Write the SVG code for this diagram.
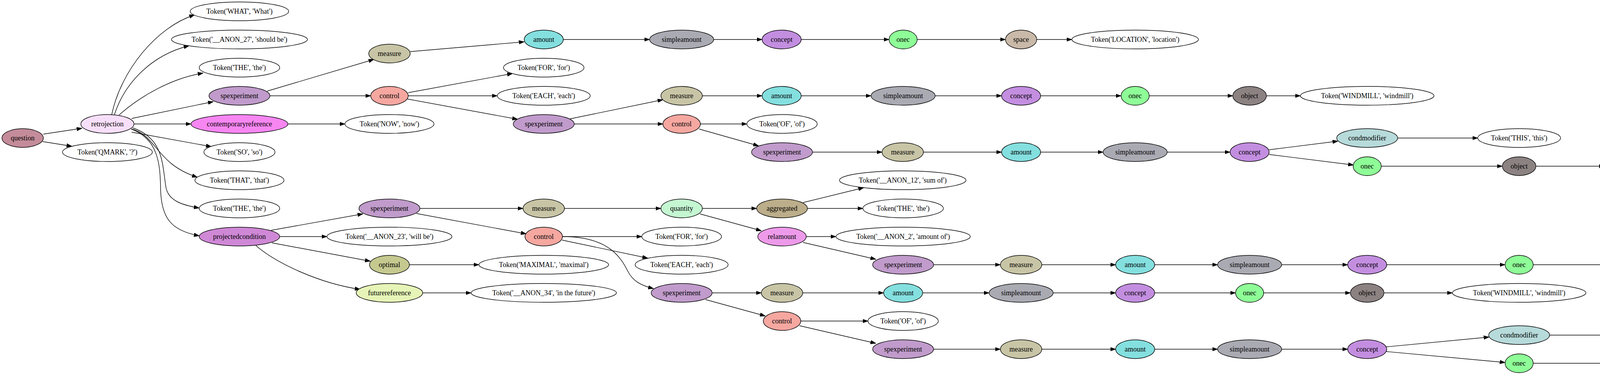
<svg xmlns="http://www.w3.org/2000/svg" width="4872" height="959" viewBox="0 0 4872 959">
<style>
ellipse{stroke:#000;stroke-width:1.4;fill:#fff}
text{font-family:"Liberation Serif","Times New Roman",serif;font-size:18px;text-anchor:middle;fill:#000}
#edges path{fill:none;stroke:#000;stroke-width:1.4;marker-end:url(#ah)}
.question{fill:#c48c9a}.retrojection{fill:#f7dff9}.spexperiment{fill:#c09bcb}.contemporaryreference{fill:#f786f2}
.projectedcondition{fill:#cf88d6}.measure{fill:#c8c5a6}.amount{fill:#84dfdf}.control{fill:#f5a7a0}
.simpleamount{fill:#aaaab3}.concept{fill:#c38ee0}.onec{fill:#8efc97}.space{fill:#c9b9a8}.object{fill:#8c8282}
.condmodifier{fill:#b7dada}.quantity{fill:#c5f6d2}.aggregated{fill:#bcae8a}.relamount{fill:#ee9aea}
.optimal{fill:#c5c98f}.futurereference{fill:#e6f5b7}.stuff{fill:#f3c6c8}
</style>
<defs>
<marker id="ah" viewBox="0 0 14 10" refX="13.5" refY="5" markerWidth="14" markerHeight="10" markerUnits="userSpaceOnUse" orient="auto">
<path d="M0,0.3 L13.5,5 L0,9.7 Z" fill="#000" stroke="#000" stroke-width="1"/>
</marker>
</defs>
<rect width="4872" height="959" fill="#fff"/>
<g id="edges">
<path d="M111,343 L210,328"/>
<path d="M109,362 L184,374"/>
<path d="M286,293 C310,180 400,70 498,38"/>
<path d="M293,293 C320,210 390,140 484,117"/>
<path d="M305,294 C360,245 440,200 520,187"/>
<path d="M337,303 L546,260"/>
<path d="M343,317 L489,317"/>
<path d="M337,338 L541,375"/>
<path d="M337,330 C400,345 400,420 505,453"/>
<path d="M340,327 C420,355 415,420 425,480 C432,515 470,525 510,532"/>
<path d="M336,330 C405,355 410,420 411,480 C412,560 440,590 510,603"/>
<path d="M684,233 L957,152"/>
<path d="M691,245 L949,245"/>
<path d="M737,317 L883,317"/>
<path d="M1050,132 L1342,107"/>
<path d="M1045,237 L1312,188"/>
<path d="M1045,245 L1273,245"/>
<path d="M1042,253 L1325,305"/>
<path d="M1459,304 L1697,255"/>
<path d="M1470,317 L1697,317"/>
<path d="M1793,317 L1912,317"/>
<path d="M1790,330 L1942,373"/>
<path d="M694,589 L929,547"/>
<path d="M716,605 L837,605"/>
<path d="M696,621 L948,668"/>
<path d="M655,628 C710,675 820,725 922,740"/>
<path d="M1075,533 L1339,533"/>
<path d="M1066,546 L1347,598"/>
<path d="M1048,677 L1226,677"/>
<path d="M1082,749 L1206,749"/>
<path d="M1445,533 L1692,533"/>
<path d="M1440,605 L1643,605"/>
<path d="M1439,614 L1658,660"/>
<path d="M1440,605 C1560,605 1590,660 1608,695 C1620,718 1640,730 1673,738"/>
<path d="M1798,533 L1937,533"/>
<path d="M1792,547 L1949,590"/>
<path d="M2056,518 L2211,480"/>
<path d="M2067,533 L2209,533"/>
<path d="M2064,605 L2140,605"/>
<path d="M2056,620 L2242,663"/>
<path d="M1823,749 L1949,749"/>
<path d="M1806,766 L1959,808"/>
<path d="M2050,821 L2222,821"/>
<path d="M2047,833 L2242,878"/>
<path d="M1442,101 L1663,101"/>
<path d="M1827,101 L1951,101"/>
<path d="M2051,101 L2276,101"/>
<path d="M2348,101 L2574,101"/>
<path d="M2654,101 L2744,101"/>
<path d="M1798,245 L1951,245"/>
<path d="M2051,245 L2230,245"/>
<path d="M2394,245 L2564,245"/>
<path d="M2664,245 L2870,245"/>
<path d="M2942,245 L3156,245"/>
<path d="M3242,245 L3329,245"/>
<path d="M2080,389 L2258,389"/>
<path d="M2364,389 L2564,389"/>
<path d="M2664,389 L2824,389"/>
<path d="M2988,389 L3149,389"/>
<path d="M3249,383 L3425,361"/>
<path d="M3249,395 L3465,422"/>
<path d="M3578,353 L3783,353"/>
<path d="M3536,425 L3846,425"/>
<path d="M3932,425 L4107,425"/>
<path d="M2390,677 L2561,677"/>
<path d="M2667,677 L2856,677"/>
<path d="M2956,677 L3117,677"/>
<path d="M3281,677 L3450,677"/>
<path d="M3550,677 L3853,677"/>
<path d="M3925,677 L4250,677"/>
<path d="M4322,677 L4544,677"/>
<path d="M2055,749 L2262,749"/>
<path d="M2362,749 L2532,749"/>
<path d="M2696,749 L2856,749"/>
<path d="M2956,749 L3163,749"/>
<path d="M3235,749 L3457,749"/>
<path d="M3543,749 L3718,749"/>
<path d="M2390,893 L2561,893"/>
<path d="M2667,893 L2856,893"/>
<path d="M2956,893 L3117,893"/>
<path d="M3281,893 L3450,893"/>
<path d="M3549,887 L3812,862"/>
<path d="M3549,899 L3853,927"/>
<path d="M3967,857 L4176,857"/>
<path d="M3925,929 L4242,929"/>
<path d="M4328,929 L4511,929"/>
</g>
<g id="n1"><ellipse class="question" cx="58" cy="353" rx="53" ry="24"/><text x="58" y="359">question</text></g>
<g id="n2"><ellipse class="retrojection" cx="275" cy="317" rx="68" ry="24"/><text x="275" y="323">retrojection</text></g>
<g id="n3"><ellipse cx="275" cy="389" rx="115" ry="24"/><text x="275" y="395">Token('QMARK', '?')</text></g>
<g id="n4"><ellipse cx="613" cy="29" rx="126" ry="24"/><text x="613" y="35">Token('WHAT', 'What')</text></g>
<g id="n5"><ellipse cx="613" cy="101" rx="174" ry="24"/><text x="613" y="107">Token('__ANON_27', 'should be')</text></g>
<g id="n6"><ellipse cx="613" cy="173" rx="103" ry="24"/><text x="613" y="179">Token('THE', 'the')</text></g>
<g id="n7"><ellipse class="spexperiment" cx="613" cy="245" rx="78" ry="24"/><text x="613" y="251">spexperiment</text></g>
<g id="n8"><ellipse class="contemporaryreference" cx="613" cy="317" rx="124" ry="24"/><text x="613" y="323">contemporaryreference</text></g>
<g id="n9"><ellipse cx="613" cy="389" rx="91" ry="24"/><text x="613" y="395">Token('SO', 'so')</text></g>
<g id="n10"><ellipse cx="613" cy="461" rx="114" ry="24"/><text x="613" y="467">Token('THAT', 'that')</text></g>
<g id="n11"><ellipse cx="613" cy="533" rx="103" ry="24"/><text x="613" y="539">Token('THE', 'the')</text></g>
<g id="n12"><ellipse class="projectedcondition" cx="613" cy="605" rx="103" ry="24"/><text x="613" y="611">projectedcondition</text></g>
<g id="n13"><ellipse class="measure" cx="997" cy="137" rx="53" ry="24"/><text x="997" y="143">measure</text></g>
<g id="n14"><ellipse class="control" cx="997" cy="245" rx="48" ry="24"/><text x="997" y="251">control</text></g>
<g id="n15"><ellipse cx="997" cy="317" rx="114" ry="24"/><text x="997" y="323">Token('NOW', 'now')</text></g>
<g id="n16"><ellipse class="spexperiment" cx="997" cy="533" rx="78" ry="24"/><text x="997" y="539">spexperiment</text></g>
<g id="n17"><ellipse cx="997" cy="605" rx="160" ry="24"/><text x="997" y="611">Token('__ANON_23', 'will be')</text></g>
<g id="n18"><ellipse class="optimal" cx="997" cy="677" rx="51" ry="24"/><text x="997" y="683">optimal</text></g>
<g id="n19"><ellipse class="futurereference" cx="997" cy="749" rx="85" ry="24"/><text x="997" y="755">futurereference</text></g>
<g id="n20"><ellipse class="amount" cx="1392" cy="101" rx="50" ry="24"/><text x="1392" y="107">amount</text></g>
<g id="n21"><ellipse cx="1392" cy="173" rx="103" ry="24"/><text x="1392" y="179">Token('FOR', 'for')</text></g>
<g id="n22"><ellipse cx="1392" cy="245" rx="119" ry="24"/><text x="1392" y="251">Token('EACH', 'each')</text></g>
<g id="n23"><ellipse class="spexperiment" cx="1392" cy="317" rx="78" ry="24"/><text x="1392" y="323">spexperiment</text></g>
<g id="n24"><ellipse class="measure" cx="1392" cy="533" rx="53" ry="24"/><text x="1392" y="539">measure</text></g>
<g id="n25"><ellipse class="control" cx="1392" cy="605" rx="48" ry="24"/><text x="1392" y="611">control</text></g>
<g id="n26"><ellipse cx="1392" cy="677" rx="166" ry="24"/><text x="1392" y="683">Token('MAXIMAL', 'maximal')</text></g>
<g id="n27"><ellipse cx="1392" cy="749" rx="186" ry="24"/><text x="1392" y="755">Token('__ANON_34', 'in the future')</text></g>
<g id="n28"><ellipse class="simpleamount" cx="1745" cy="101" rx="82" ry="24"/><text x="1745" y="107">simpleamount</text></g>
<g id="n29"><ellipse class="measure" cx="1745" cy="245" rx="53" ry="24"/><text x="1745" y="251">measure</text></g>
<g id="n30"><ellipse class="control" cx="1745" cy="317" rx="48" ry="24"/><text x="1745" y="323">control</text></g>
<g id="n31"><ellipse class="quantity" cx="1745" cy="533" rx="53" ry="24"/><text x="1745" y="539">quantity</text></g>
<g id="n32"><ellipse cx="1745" cy="605" rx="102" ry="24"/><text x="1745" y="611">Token('FOR', 'for')</text></g>
<g id="n33"><ellipse cx="1745" cy="677" rx="119" ry="24"/><text x="1745" y="683">Token('EACH', 'each')</text></g>
<g id="n34"><ellipse class="spexperiment" cx="1745" cy="749" rx="78" ry="24"/><text x="1745" y="755">spexperiment</text></g>
<g id="n35"><ellipse class="concept" cx="2001" cy="101" rx="50" ry="24"/><text x="2001" y="107">concept</text></g>
<g id="n36"><ellipse class="amount" cx="2001" cy="245" rx="50" ry="24"/><text x="2001" y="251">amount</text></g>
<g id="n37"><ellipse cx="2002" cy="317" rx="90" ry="24"/><text x="2002" y="323">Token('OF', 'of')</text></g>
<g id="n38"><ellipse class="spexperiment" cx="2002" cy="389" rx="78" ry="24"/><text x="2002" y="395">spexperiment</text></g>
<g id="n39"><ellipse class="aggregated" cx="2002" cy="533" rx="65" ry="24"/><text x="2002" y="539">aggregated</text></g>
<g id="n40"><ellipse class="relamount" cx="2002" cy="605" rx="62" ry="24"/><text x="2002" y="611">relamount</text></g>
<g id="n41"><ellipse class="measure" cx="2002" cy="749" rx="53" ry="24"/><text x="2002" y="755">measure</text></g>
<g id="n42"><ellipse class="control" cx="2002" cy="821" rx="48" ry="24"/><text x="2002" y="827">control</text></g>
<g id="n43"><ellipse class="onec" cx="2312" cy="101" rx="36" ry="24"/><text x="2312" y="107">onec</text></g>
<g id="n44"><ellipse class="simpleamount" cx="2312" cy="245" rx="82" ry="24"/><text x="2312" y="251">simpleamount</text></g>
<g id="n45"><ellipse class="measure" cx="2311" cy="389" rx="53" ry="24"/><text x="2311" y="395">measure</text></g>
<g id="n46"><ellipse cx="2311" cy="461" rx="162" ry="24"/><text x="2311" y="467">Token('__ANON_12', 'sum of')</text></g>
<g id="n47"><ellipse cx="2312" cy="533" rx="103" ry="24"/><text x="2312" y="539">Token('THE', 'the')</text></g>
<g id="n48"><ellipse cx="2312" cy="605" rx="172" ry="24"/><text x="2312" y="611">Token('__ANON_2', 'amount of')</text></g>
<g id="n49"><ellipse class="spexperiment" cx="2312" cy="677" rx="78" ry="24"/><text x="2312" y="683">spexperiment</text></g>
<g id="n50"><ellipse class="amount" cx="2312" cy="749" rx="50" ry="24"/><text x="2312" y="755">amount</text></g>
<g id="n51"><ellipse cx="2312" cy="821" rx="90" ry="24"/><text x="2312" y="827">Token('OF', 'of')</text></g>
<g id="n52"><ellipse class="spexperiment" cx="2312" cy="893" rx="78" ry="24"/><text x="2312" y="899">spexperiment</text></g>
<g id="n53"><ellipse class="space" cx="2614" cy="101" rx="40" ry="24"/><text x="2614" y="107">space</text></g>
<g id="n54"><ellipse class="concept" cx="2614" cy="245" rx="50" ry="24"/><text x="2614" y="251">concept</text></g>
<g id="n55"><ellipse class="amount" cx="2614" cy="389" rx="50" ry="24"/><text x="2614" y="395">amount</text></g>
<g id="n56"><ellipse class="measure" cx="2614" cy="677" rx="53" ry="24"/><text x="2614" y="683">measure</text></g>
<g id="n57"><ellipse class="simpleamount" cx="2614" cy="749" rx="82" ry="24"/><text x="2614" y="755">simpleamount</text></g>
<g id="n58"><ellipse class="measure" cx="2614" cy="893" rx="53" ry="24"/><text x="2614" y="899">measure</text></g>
<g id="n59"><ellipse cx="2906" cy="101" rx="162" ry="24"/><text x="2906" y="107">Token('LOCATION', 'location')</text></g>
<g id="n60"><ellipse class="onec" cx="2906" cy="245" rx="36" ry="24"/><text x="2906" y="251">onec</text></g>
<g id="n61"><ellipse class="simpleamount" cx="2906" cy="389" rx="82" ry="24"/><text x="2906" y="395">simpleamount</text></g>
<g id="n62"><ellipse class="amount" cx="2906" cy="677" rx="50" ry="24"/><text x="2906" y="683">amount</text></g>
<g id="n63"><ellipse class="concept" cx="2906" cy="749" rx="50" ry="24"/><text x="2906" y="755">concept</text></g>
<g id="n64"><ellipse class="amount" cx="2906" cy="893" rx="50" ry="24"/><text x="2906" y="899">amount</text></g>
<g id="n65"><ellipse class="object" cx="3199" cy="245" rx="43" ry="24"/><text x="3199" y="251">object</text></g>
<g id="n66"><ellipse class="concept" cx="3199" cy="389" rx="50" ry="24"/><text x="3199" y="395">concept</text></g>
<g id="n67"><ellipse class="simpleamount" cx="3199" cy="677" rx="82" ry="24"/><text x="3199" y="683">simpleamount</text></g>
<g id="n68"><ellipse class="onec" cx="3199" cy="749" rx="36" ry="24"/><text x="3199" y="755">onec</text></g>
<g id="n69"><ellipse class="simpleamount" cx="3199" cy="893" rx="82" ry="24"/><text x="3199" y="899">simpleamount</text></g>
<g id="n70"><ellipse cx="3500" cy="245" rx="171" ry="24"/><text x="3500" y="251">Token('WINDMILL', 'windmill')</text></g>
<g id="n71"><ellipse class="condmodifier" cx="3500" cy="353" rx="78" ry="24"/><text x="3500" y="359">condmodifier</text></g>
<g id="n72"><ellipse class="onec" cx="3500" cy="425" rx="36" ry="24"/><text x="3500" y="431">onec</text></g>
<g id="n73"><ellipse class="concept" cx="3500" cy="677" rx="50" ry="24"/><text x="3500" y="683">concept</text></g>
<g id="n74"><ellipse class="object" cx="3500" cy="749" rx="43" ry="24"/><text x="3500" y="755">object</text></g>
<g id="n75"><ellipse class="concept" cx="3500" cy="893" rx="50" ry="24"/><text x="3500" y="899">concept</text></g>
<g id="n76"><ellipse cx="3889" cy="353" rx="106" ry="24"/><text x="3889" y="359">Token('THIS', 'this')</text></g>
<g id="n77"><ellipse class="object" cx="3889" cy="425" rx="43" ry="24"/><text x="3889" y="431">object</text></g>
<g id="n78"><ellipse class="onec" cx="3889" cy="677" rx="36" ry="24"/><text x="3889" y="683">onec</text></g>
<g id="n79"><ellipse cx="3889" cy="749" rx="171" ry="24"/><text x="3889" y="755">Token('WINDMILL', 'windmill')</text></g>
<g id="n80"><ellipse class="condmodifier" cx="3889" cy="857" rx="78" ry="24"/><text x="3889" y="863">condmodifier</text></g>
<g id="n81"><ellipse class="onec" cx="3889" cy="929" rx="36" ry="24"/><text x="3889" y="935">onec</text></g>
<g id="n82"><ellipse cx="4285" cy="425" rx="178" ry="24"/><text x="4285" y="431">Token('WINDFARM', 'windfarm')</text></g>
<g id="n83"><ellipse class="stuff" cx="4286" cy="677" rx="36" ry="24"/><text x="4286" y="683">stuff</text></g>
<g id="n84"><ellipse cx="4285" cy="857" rx="109" ry="24"/><text x="4285" y="863">Token('THIS', 'this')</text></g>
<g id="n85"><ellipse class="object" cx="4285" cy="929" rx="43" ry="24"/><text x="4285" y="935">object</text></g>
<g id="n86"><ellipse cx="4689" cy="677" rx="145" ry="24"/><text x="4689" y="683">Token('ENERGY', 'energy')</text></g>
<g id="n87"><ellipse cx="4689" cy="929" rx="178" ry="24"/><text x="4689" y="935">Token('WINDFARM', 'windfarm')</text></g>
</svg>
